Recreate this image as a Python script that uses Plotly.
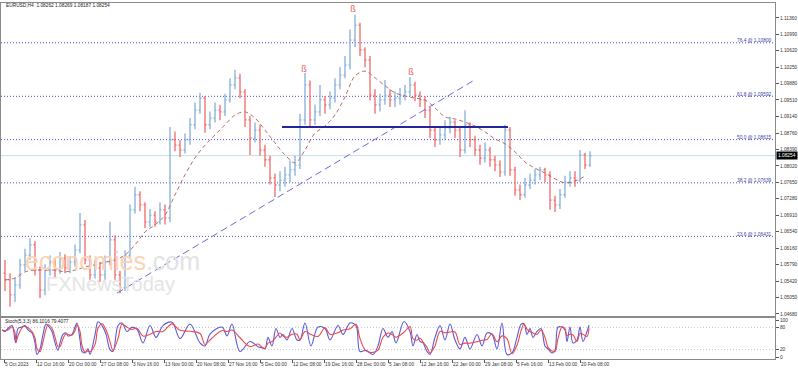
import plotly.graph_objects as go
import pandas as pd

# ---------------- data ----------------
title_text = "EURUSD,H4  1.08262 1.08269 1.08187 1.08254"
stoch_text = "Stoch(5,3,3) 86.1016 79.4077"
last_price = 1.08254

x_tick_bars = [0, 32, 64, 96, 128, 160, 192, 224, 256, 288, 320, 352, 384, 416, 448, 480, 512, 544, 576]
x_tick_labels = ["5 Oct 2023", "12 Oct 16:00", "20 Oct 00:00", "27 Oct 08:00", "3 Nov 16:00",
                 "13 Nov 00:00", "20 Nov 08:00", "27 Nov 16:00", "5 Dec 00:00", "12 Dec 08:00",
                 "19 Dec 16:00", "28 Dec 00:00", "5 Jan 08:00", "12 Jan 16:00", "22 Jan 00:00",
                 "29 Jan 08:00", "5 Feb 16:00", "13 Feb 00:00", "20 Feb 08:00"]

y_tick_vals = [1.11360, 1.10990, 1.10620, 1.10250, 1.09880, 1.09510, 1.09140, 1.08760, 1.08390,
               1.08020, 1.07650, 1.07280, 1.06910, 1.06540, 1.06160, 1.05790, 1.05420, 1.05050, 1.04680]

fib_pct = ["76.4", "61.8", "50.0", "38.2", "23.6"]
fib_levels = [1.10800, 1.09592, 1.08615, 1.07639, 1.06431]

price_bar = list(range(1, 590, 5))
first_open = 1.0560
closes = [1.0545, 1.0511, 1.0533, 1.0579, 1.0601, 1.0624, 1.0567, 1.0522, 1.0567, 1.0585,
          1.0567, 1.0594, 1.0572, 1.0585, 1.0612, 1.0669, 1.0590, 1.0556, 1.0572, 1.0556,
          1.0585, 1.0635, 1.0556, 1.0527, 1.0601, 1.0703, 1.0737, 1.0714, 1.0676, 1.0691,
          1.0676, 1.0703, 1.0685, 1.0861, 1.0849, 1.0838, 1.0861, 1.0895, 1.0928, 1.0955,
          1.0895, 1.0910, 1.0928, 1.0924, 1.0951, 1.0985, 1.1001, 1.0969, 1.0906, 1.0865,
          1.0883, 1.0838, 1.0816, 1.0775, 1.0759, 1.0770, 1.0782, 1.0793, 1.0804, 1.0906,
          1.0985, 1.0906, 1.0924, 1.0951, 1.0940, 1.0955, 1.0985, 1.1007, 1.1030, 1.1086,
          1.1120, 1.1064, 1.1041, 1.0962, 1.0940, 1.0951, 1.0962, 1.0951, 1.0955, 1.0962,
          1.0969, 1.0985, 1.0962, 1.0951, 1.0928, 1.0883, 1.0861, 1.0872, 1.0888, 1.0901,
          1.0883, 1.0838, 1.0895, 1.0861, 1.0838, 1.0820, 1.0838, 1.0816, 1.0804, 1.0788,
          1.0883, 1.0793, 1.0748, 1.0737, 1.0759, 1.0770, 1.0782, 1.0793, 1.0782, 1.0725,
          1.0714, 1.0737, 1.0766, 1.0775, 1.0770, 1.0827, 1.0804, 1.0825]
highs = [1.0590, 1.0560, 1.0550, 1.0592, 1.0615, 1.0639, 1.0632, 1.0575, 1.0580, 1.0600,
         1.0595, 1.0608, 1.0603, 1.0598, 1.0625, 1.0696, 1.0680, 1.0600, 1.0590, 1.0585,
         1.0600, 1.0676, 1.0645, 1.0565, 1.0612, 1.0715, 1.0755, 1.0745, 1.0720, 1.0705,
         1.0700, 1.0720, 1.0715, 1.0890, 1.0880, 1.0860, 1.0875, 1.0910, 1.0945, 1.0967,
         1.0960, 1.0925, 1.0945, 1.0940, 1.0965, 1.1000, 1.1019, 1.1010, 1.0975, 1.0915,
         1.0900, 1.0895, 1.0850, 1.0825, 1.0785, 1.0790, 1.0800, 1.0815, 1.0825, 1.0920,
         1.1012, 1.0995, 1.0940, 1.0985, 1.0960, 1.0970, 1.1000, 1.1025, 1.1050, 1.1110,
         1.1143, 1.1125, 1.1070, 1.1050, 1.0975, 1.0965, 1.0996, 1.0975, 1.0970, 1.0978,
         1.0985, 1.1003, 1.0992, 1.0970, 1.0960, 1.0935, 1.0890, 1.0890, 1.0905, 1.0913,
         1.0905, 1.0890, 1.0928, 1.0900, 1.0870, 1.0850, 1.0855, 1.0845, 1.0825, 1.0815,
         1.0895, 1.0890, 1.0800, 1.0760, 1.0775, 1.0785, 1.0795, 1.0800, 1.0798, 1.0790,
         1.0735, 1.0750, 1.0780, 1.0790, 1.0790, 1.0838, 1.0832, 1.0835]
lows = [1.0520, 1.0484, 1.0495, 1.0525, 1.0565, 1.0590, 1.0555, 1.0504, 1.0510, 1.0555,
        1.0550, 1.0558, 1.0560, 1.0560, 1.0575, 1.0605, 1.0580, 1.0545, 1.0548, 1.0540,
        1.0545, 1.0578, 1.0545, 1.0515, 1.0520, 1.0595, 1.0695, 1.0700, 1.0662, 1.0665,
        1.0665, 1.0670, 1.0670, 1.0675, 1.0835, 1.0822, 1.0830, 1.0850, 1.0885, 1.0920,
        1.0877, 1.0885, 1.0900, 1.0905, 1.0915, 1.0945, 1.0975, 1.0955, 1.0890, 1.0827,
        1.0855, 1.0825, 1.0800, 1.0760, 1.0732, 1.0745, 1.0755, 1.0765, 1.0780, 1.0795,
        1.0895, 1.0890, 1.0895, 1.0915, 1.0920, 1.0930, 1.0945, 1.0975, 1.1000, 1.1020,
        1.1070, 1.1050, 1.1025, 1.0950, 1.0920, 1.0925, 1.0940, 1.0935, 1.0935, 1.0940,
        1.0950, 1.0960, 1.0948, 1.0935, 1.0910, 1.0865, 1.0845, 1.0850, 1.0860, 1.0875,
        1.0865, 1.0822, 1.0830, 1.0845, 1.0825, 1.0805, 1.0810, 1.0800, 1.0790, 1.0777,
        1.0780, 1.0780, 1.0735, 1.0725, 1.0730, 1.0750, 1.0760, 1.0770, 1.0765, 1.0703,
        1.0698, 1.0705, 1.0730, 1.0755, 1.0755, 1.0765, 1.0795, 1.0800]
opens = [first_open] + closes[:-1]

ma_bar = list(range(1, 590, 10))
ma_vals = [1.0545, 1.0549, 1.0563, 1.0567, 1.0567, 1.0567, 1.0563, 1.0567, 1.0574, 1.0579,
           1.0585, 1.0590, 1.0601, 1.0624, 1.0653, 1.0669, 1.0691, 1.0737, 1.0782, 1.0820,
           1.0849, 1.0872, 1.0895, 1.0917, 1.0924, 1.0910, 1.0883, 1.0854, 1.0827, 1.0809,
           1.0838, 1.0876, 1.0892, 1.0917, 1.0958, 1.1005, 1.1016, 1.1001, 1.0983, 1.0967,
           1.0960, 1.0955, 1.0951, 1.0933, 1.0913, 1.0908, 1.0901, 1.0892, 1.0879, 1.0863,
           1.0852, 1.0834, 1.0811, 1.0797, 1.0786, 1.0773, 1.0764, 1.0768, 1.0779]

trend_bar = [113, 469]
trend_price = [1.0515, 1.0994]
hline_bar = [278, 504]
hline_price = [1.0890, 1.0890]

fractal_bar = [300, 349, 407]
fractal_price = [1.1019, 1.1154, 1.1012]

stoch_bar = [-2, 1, 4, 8, 11, 12, 14, 18, 21, 24, 28, 31, 33, 36, 39, 42, 44, 48, 51, 54,
             56, 59, 62, 64, 68, 71, 73, 76, 78, 81, 84, 86, 91, 94, 98, 102, 106, 109, 114, 118,
             123, 128, 133, 139, 146, 152, 159, 168, 176, 186, 196, 201, 206, 218, 223, 228, 236, 246, 254, 258,
             261, 264, 268, 272, 276, 279, 283, 288, 293, 296, 301, 307, 314, 321, 326, 334, 339, 346, 352, 356,
             362, 369, 374, 379, 384, 388, 392, 400, 406, 409, 413, 416, 419, 423, 426, 431, 436, 441, 446, 451,
             456, 461, 466, 473, 478, 483, 488, 493, 498, 503, 508, 513, 517, 520, 523, 526, 529, 533, 537, 541,
             544, 548, 551, 554, 558, 561, 563, 566, 569, 573, 576, 579, 583, 585]
stoch_k = [73, 69, 77, 85, 45, 38, 77, 81, 85, 73, 65, 38, 7, 22, 61, 89, 85, 69, 38, 18,
           38, 61, 65, 57, 61, 81, 92, 46, 15, 11, 22, 7, 60, 95, 85, 62, 20, 15, 85, 92,
           69, 80, 75, 38, 85, 53, 85, 94, 50, 89, 38, 30, 62, 81, 57, 89, 15, 42, 28, 25,
           22, 53, 30, 77, 53, 61, 46, 77, 46, 46, 92, 30, 81, 77, 46, 85, 61, 92, 85, 15,
           18, 7, 30, 77, 53, 69, 38, 96, 69, 30, 61, 42, 38, 15, 7, 53, 85, 46, 89, 46,
           22, 53, 22, 61, 30, 65, 61, 22, 92, 7, 11, 53, 88, 90, 61, 77, 53, 69, 77, 30,
           22, 11, 18, 81, 81, 73, 42, 81, 38, 46, 81, 42, 69, 86]
stoch_levels = [20, 80]
stoch_ticks = [0, 20, 80, 100]

# -------------- pixel geometry --------------
W, H = 798, 371
X0, X1 = 1, 775
def px_x(p):
    return p / W
def px_y(p):
    return 1 - p / H

stoch_d = pd.Series(stoch_k).rolling(2, min_periods=1).mean().tolist()

FONT = "Liberation Sans, Arial, sans-serif"
FS = 4.8
fig = go.Figure()

fig.add_trace(go.Ohlc(
    x=price_bar, open=opens, high=highs, low=lows, close=closes,
    increasing=dict(line=dict(color="#86afda", width=1.3)),
    decreasing=dict(line=dict(color="#f26a6a", width=1.3)),
    tickwidth=0.3, xaxis="x", yaxis="y", hoverinfo="skip"))

fig.add_trace(go.Scatter(x=ma_bar, y=ma_vals, mode="lines", line_shape="spline",
                         line=dict(color="#b46e68", width=1, dash="4px,3px"),
                         xaxis="x", yaxis="y", hoverinfo="skip"))
fig.add_trace(go.Scatter(x=trend_bar, y=trend_price, mode="lines",
                         line=dict(color="#6c6cd4", width=1, dash="7px,4px"),
                         xaxis="x", yaxis="y", hoverinfo="skip"))
fig.add_trace(go.Scatter(x=hline_bar, y=hline_price, mode="lines",
                         line=dict(color="#25259a", width=2),
                         xaxis="x", yaxis="y", hoverinfo="skip"))
fig.add_trace(go.Scatter(x=fractal_bar, y=fractal_price, mode="text", text=["ß"] * len(fractal_bar),
                         textfont=dict(color="#e85a5a", size=9, family=FONT),
                         xaxis="x", yaxis="y", hoverinfo="skip"))

# stochastic
fig.add_trace(go.Scatter(x=stoch_bar, y=stoch_k, mode="lines", line_shape="spline",
                         line=dict(color="#5a5ad8", width=1.1),
                         xaxis="x2", yaxis="y2", hoverinfo="skip"))
fig.add_trace(go.Scatter(x=stoch_bar, y=stoch_d, mode="lines", line_shape="spline",
                         line=dict(color="#f04848", width=1.1),
                         xaxis="x2", yaxis="y2", hoverinfo="skip"))

shapes = []
for lv in fib_levels:
    shapes.append(dict(type="line", xref="x domain", x0=0, x1=1, yref="y", y0=lv, y1=lv,
                       line=dict(color="#4c4cc8", width=1, dash="1px,2px"), layer="below"))
shapes.append(dict(type="line", xref="x domain", x0=0, x1=1, yref="y", y0=last_price, y1=last_price,
                   line=dict(color="#c3e0e8", width=1), layer="below"))
for lv in stoch_levels:
    shapes.append(dict(type="line", xref="x2 domain", x0=0, x1=1, yref="y2", y0=lv, y1=lv,
                       line=dict(color="#c4c4c4", width=1, dash="1px,2px"), layer="below"))

annotations = []
for pct, lv in zip(fib_pct, fib_levels):
    annotations.append(dict(text=f"{pct} @ {lv:.5f}", xref="paper", x=px_x(774), xanchor="right",
                            yref="y", y=lv, yanchor="middle", yshift=2, showarrow=False,
                            font=dict(family=FONT, size=FS, color="#3c3ca8")))
annotations.append(dict(text=title_text, xref="paper", x=px_x(4), xanchor="left",
                        yref="paper", y=px_y(6), yanchor="middle", showarrow=False,
                        font=dict(family=FONT, size=FS, color="#222")))
annotations.append(dict(text=stoch_text, xref="paper", x=px_x(3), xanchor="left",
                        yref="paper", y=px_y(321), yanchor="middle", showarrow=False,
                        font=dict(family=FONT, size=FS, color="#222")))
annotations.append(dict(text=f"{last_price:.5f}", xref="paper", x=px_x(776), xanchor="left",
                        yref="y", y=last_price, yanchor="middle", showarrow=False,
                        bgcolor="#000000", borderpad=1,
                        font=dict(family=FONT, size=FS, color="#ffffff")))
annotations.append(dict(text='<span style="color:#fbd3b6">economies</span><span style="color:#e2e2e2">.com</span>',
                        xref="paper", x=px_x(112), xanchor="center", yref="paper", y=px_y(261),
                        yanchor="middle", showarrow=False, font=dict(family=FONT, size=25)))
annotations.append(dict(text='<span style="color:#e4e4e4">FXNewsToday</span>',
                        xref="paper", x=px_x(110), xanchor="center", yref="paper", y=px_y(284),
                        yanchor="middle", showarrow=False, font=dict(family=FONT, size=20)))

axis_common = dict(showgrid=False, zeroline=False, showline=True, mirror=True, linecolor="#8a8a8a",
                   linewidth=1, tickcolor="#555", automargin=False,
                   tickfont=dict(family=FONT, size=FS, color="#333"))

fig.update_layout(
    width=W, height=H, margin=dict(l=0, r=0, t=0, b=0, pad=0, autoexpand=False),
    paper_bgcolor="white", plot_bgcolor="white", showlegend=False,
    xaxis=dict(domain=[px_x(X0), px_x(X1)], range=[-3, 771], anchor="y", showticklabels=False,
               ticks="", rangeslider=dict(visible=False), **axis_common),
    yaxis=dict(domain=[px_y(316), px_y(3)], range=[1.04634, 1.11698], anchor="x", side="right",
               tickvals=y_tick_vals, ticktext=[f"{v:.5f}" for v in y_tick_vals],
               ticks="outside", ticklen=3, **axis_common),
    xaxis2=dict(domain=[px_x(X0), px_x(X1)], range=[-3, 771], anchor="y2",
                tickvals=x_tick_bars, ticktext=x_tick_labels, ticks="outside", ticklen=3,
                tickangle=0, ticklabelposition="outside right", **axis_common),
    yaxis2=dict(domain=[px_y(359), px_y(318)], range=[-5.4, 105.4], anchor="x2", side="right",
                tickvals=stoch_ticks, ticktext=[str(v) for v in stoch_ticks],
                ticks="outside", ticklen=3, **axis_common),
    shapes=shapes, annotations=annotations,
)

fig.write_html("out.html", config={"displayModeBar": False, "staticPlot": True},
               post_script="document.body.style.margin='0';document.body.style.padding='0';document.body.style.overflow='hidden';")
